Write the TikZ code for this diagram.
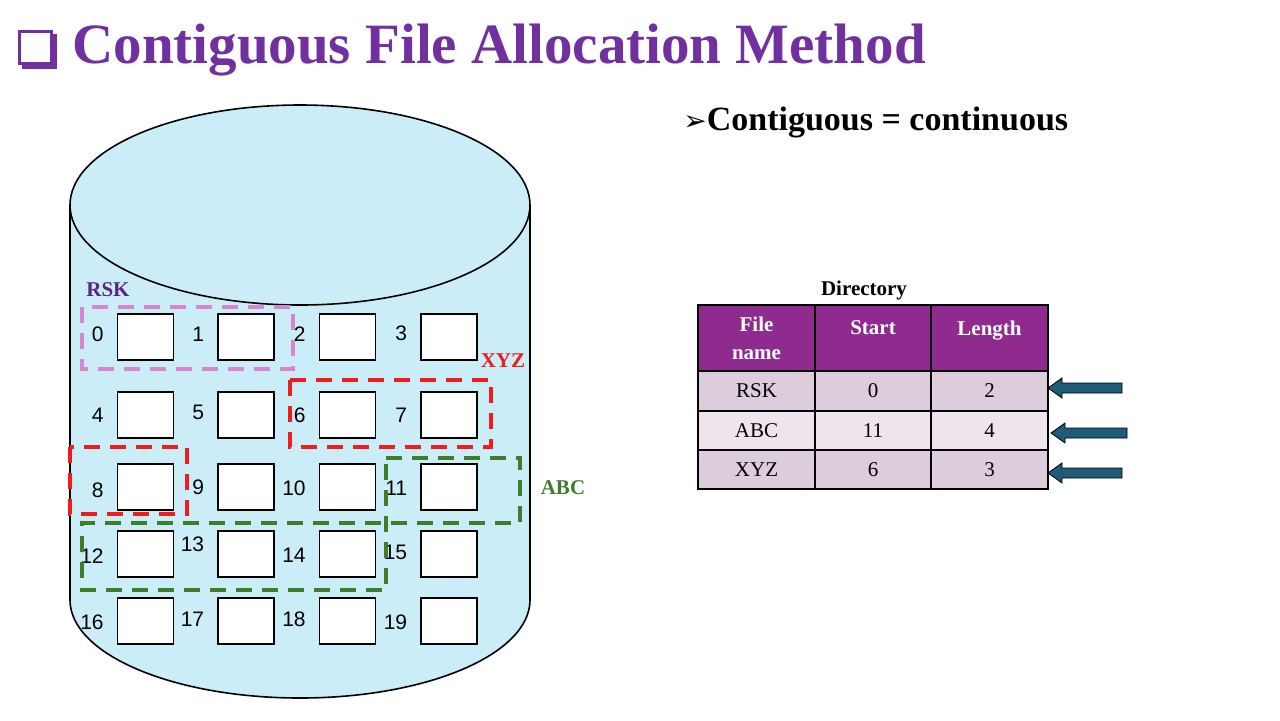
\documentclass[tikz,border=0pt]{standalone}
\usepackage{fontspec}
\setmainfont{Liberation Serif}
\newfontfamily\numf{Liberation Sans}
\newfontfamily\symf{DejaVu Sans}
\definecolor{ttl}{HTML}{7030A0}
\definecolor{cyl}{HTML}{CBEDF8}
\definecolor{hdr}{HTML}{8F2B8F}
\definecolor{rowa}{HTML}{DCCCDC}
\definecolor{rowb}{HTML}{EEE4EE}
\definecolor{arr}{HTML}{1F5C78}
\definecolor{pinkd}{HTML}{D886D0}
\definecolor{redd}{HTML}{EE1C1C}
\definecolor{grnd}{HTML}{3E7E2A}
\begin{document}
\begin{tikzpicture}[x=0.5pt,y=-0.5pt,
 blk/.style={draw=black,fill=white,line width=0.8pt},
 num/.style={font=\numf\fontsize{10.5}{12}\selectfont},
 dsh/.style={line width=2.2pt,dash pattern=on 8pt off 5pt},
 cell/.style={draw=black,line width=0.6pt},
 tt/.style={font=\fontsize{10.5}{12}\selectfont},
 th/.style={font=\bfseries\fontsize{10.5}{12}\selectfont,text=white,align=center},
 arrow/.style={draw=black,fill=arr,line width=0.4pt}]
\useasboundingbox (0,0) rectangle (1280,720);
% title
\node[draw=ttl,line width=1.5pt,minimum size=16pt,inner sep=0pt,fill=white] (sq) at (35,47) {};
\draw[ttl,line width=2.5pt] ([xshift=2pt,yshift=-1.2pt]sq.south west) -- ([xshift=1.2pt,yshift=-1.2pt]sq.south east) -- ([xshift=1.2pt,yshift=-2pt]sq.north east);
\node[anchor=west,text=ttl,font=\bfseries\fontsize{28.5}{32}\selectfont,inner sep=0pt] (title) at (72,50) {Contiguous File Allocation Method};
\node[anchor=west,font=\bfseries\fontsize{17}{20}\selectfont,inner sep=0pt] (sub) at (683,122) {{\symf\fontsize{14}{16}\selectfont ➢}Contiguous = continuous};
% cylinder
\draw[fill=cyl,line width=0.8pt] (70,205) -- (70,600) arc[start angle=180,end angle=0,x radius=230,y radius=98] -- (530,205);
\draw[fill=cyl,line width=0.8pt] (300,205) ellipse[x radius=230,y radius=100];
% blocks
\foreach \r/\y in {0/337,1/415,2/487,3/554,4/621}{
 \foreach \c/\x in {0/145.5,1/246,2/347.5,3/449}{
  \pgfmathtruncatemacro{\n}{\r*4+\c}
  \node[blk,minimum width=28pt,minimum height=23pt,inner sep=0pt] (b\n) at (\x,\y) {};
 }}
\foreach \n/\dy in {0/-3,1/-3,2/-3,3/-4,4/0,5/-3,6/0,7/0,8/3,9/0,10/1,11/1,12/2,13/-10,14/1,15/-2,16/1,17/-2,18/-2,19/1}{
 \node[num,anchor=east] (l\n) at ([xshift=-3pt,yshift=-\dy*0.5pt]b\n.west) {\n};
}
% regions
\node[text=ttl!80!black,font=\bfseries\fontsize{10.5}{12}\selectfont] (rsk) at (108,290) {RSK};
\draw[dsh,pinkd] (82,307) rectangle (293,369);
\node[text=redd,font=\bfseries\fontsize{10.5}{12}\selectfont] (xyz) at (503,361) {XYZ};
\draw[dsh,redd] (290,380) rectangle (491,447);
\draw[dsh,redd] (70,447) rectangle (187,514);
\node[text=grnd,font=\bfseries\fontsize{10.5}{12}\selectfont] (abc) at (563,488) {ABC};
\draw[dsh,grnd] (386,458) -- (520,458) -- (520,523) -- (82,523) -- (82,590) -- (386,590) -- cycle;
% table
\node[font=\bfseries\fontsize{10.5}{12}\selectfont] (dir) at (864,290) {Directory};
\fill[hdr] (698,305) rectangle (1048,371);
\fill[rowa] (698,371) rectangle (1048,411);
\fill[rowb] (698,411) rectangle (1048,450);
\fill[rowa] (698,450) rectangle (1048,489);
\draw[cell] (698,305) rectangle (1048,489);
\foreach \x in {815,931}{\draw[cell] (\x,305) -- (\x,489);}
\foreach \y in {371,411,450}{\draw[cell] (698,\y) -- (1048,\y);}
\node[th] (h1) at (756.5,338) {File\\[2pt]name};
\node[th,anchor=north] (h2) at (873,314) {Start};
\node[th,anchor=north] (h3) at (989.5,314) {Length};
\foreach \i/\y/\a/\b/\c in {1/391/RSK/0/2,2/431/ABC/11/4,3/470/XYZ/6/3}{
 \node[tt] (f\i) at (756.5,\y) {\a};
 \node[tt] (s\i) at (873,\y) {\b};
 \node[tt] (g\i) at (989.5,\y) {\c};
}
\foreach \i/\xs/\xe/\y in {1/1048/1122/388,2/1051/1127/433,3/1048/1122/473}{
 \draw[arrow] (\xs,\y) -- (\xs+14,\y-10) -- (\xs+14,\y-5) -- (\xe,\y-5) -- (\xe,\y+5) -- (\xs+14,\y+5) -- (\xs+14,\y+10) -- cycle;
}
\end{tikzpicture}
\end{document}
